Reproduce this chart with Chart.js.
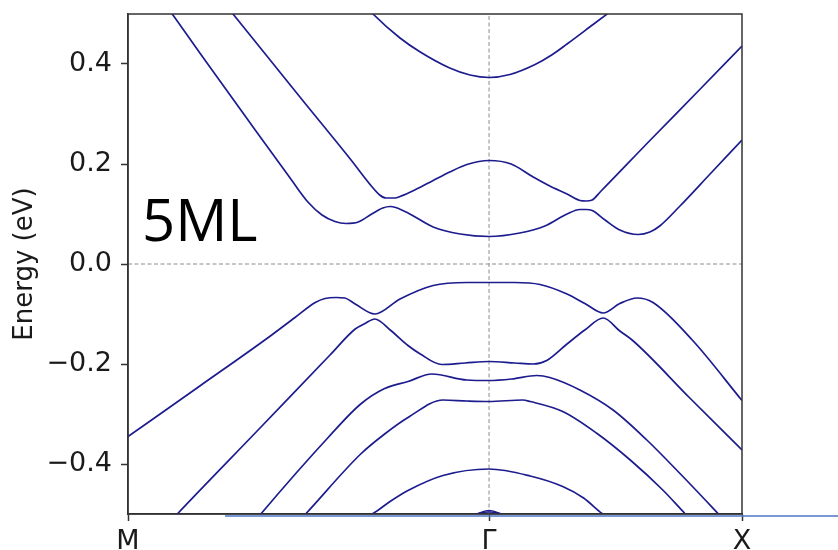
<!DOCTYPE html>
<html>
<head>
<meta charset="utf-8">
<title>5ML band structure</title>
<script src="https://cdn.jsdelivr.net/npm/chart.js@4.4.1/dist/chart.umd.min.js"></script>
<style>
  html, body { margin: 0; padding: 0; background: #fff; }
</style>
</head>
<body>
<canvas id="bands" width="838" height="550"></canvas>
<script>
// k path M -> Γ -> X, whole path scaled to 0..1
const kTicks = [0, 0.588, 1];
const kLabels = ["M", "Γ", "X"];
const eTicks = [-0.4, -0.2, 0, 0.2, 0.4];

// bands, [k, E in eV]
const cb3 = [[0.370, 0.540], [0.399, 0.500], [0.443, 0.452], [0.476, 0.424], [0.524, 0.392], [0.557, 0.378],
  [0.588, 0.373], [0.622, 0.379], [0.663, 0.399], [0.690, 0.418], [0.715, 0.440], [0.752, 0.474], [0.780, 0.500],
  [0.809, 0.528]];

const cb2 = [[0.138, 0.550], [0.171, 0.500], [0.280, 0.334], [0.362, 0.210], [0.397, 0.155], [0.410, 0.138],
  [0.420, 0.132], [0.435, 0.132], [0.443, 0.135], [0.467, 0.148], [0.497, 0.167], [0.524, 0.184], [0.552, 0.199],
  [0.588, 0.207], [0.624, 0.200], [0.660, 0.174], [0.687, 0.156], [0.715, 0.140], [0.736, 0.127], [0.746, 0.126],
  [0.756, 0.128], [0.769, 0.144], [0.850, 0.247], [0.932, 0.350], [1.000, 0.436]];

const cb1 = [[0.042, 0.550], [0.072, 0.500], [0.117, 0.422], [0.199, 0.282], [0.264, 0.172], [0.293, 0.124],
  [0.316, 0.098], [0.337, 0.085], [0.355, 0.081], [0.375, 0.084], [0.397, 0.100], [0.415, 0.112], [0.427, 0.115],
  [0.436, 0.113], [0.459, 0.100], [0.497, 0.074], [0.541, 0.060], [0.588, 0.055], [0.638, 0.062], [0.679, 0.076],
  [0.715, 0.100], [0.736, 0.109], [0.746, 0.109], [0.756, 0.107], [0.777, 0.088], [0.801, 0.068], [0.831, 0.059],
  [0.850, 0.064], [0.866, 0.076], [0.899, 0.116], [0.948, 0.180], [1.000, 0.248]];

const vb1 = [[0.000, -0.345], [0.117, -0.244], [0.233, -0.143], [0.272, -0.107], [0.305, -0.077], [0.321, -0.069],
  [0.339, -0.067], [0.353, -0.068], [0.370, -0.080], [0.402, -0.100], [0.443, -0.070], [0.497, -0.043],
  [0.552, -0.037], [0.588, -0.037], [0.630, -0.037], [0.671, -0.041], [0.715, -0.060], [0.744, -0.079],
  [0.774, -0.098], [0.801, -0.079], [0.829, -0.068], [0.855, -0.077], [0.919, -0.152], [1.000, -0.273]];

const vb2 = [[0.062, -0.524], [0.081, -0.499], [0.215, -0.328], [0.329, -0.182], [0.370, -0.130], [0.386, -0.119],
  [0.402, -0.110], [0.427, -0.132], [0.456, -0.163], [0.476, -0.180], [0.511, -0.201], [0.549, -0.198],
  [0.588, -0.195], [0.630, -0.198], [0.660, -0.200], [0.682, -0.193], [0.715, -0.160], [0.744, -0.132],
  [0.774, -0.108], [0.801, -0.134], [0.822, -0.153], [0.915, -0.268], [1.000, -0.372]];

const vb3 = [[0.207, -0.514], [0.217, -0.499], [0.326, -0.347], [0.379, -0.280], [0.418, -0.249], [0.456, -0.235],
  [0.495, -0.220], [0.552, -0.232], [0.588, -0.233], [0.625, -0.230], [0.666, -0.223], [0.687, -0.227],
  [0.736, -0.252], [0.790, -0.292], [0.845, -0.352], [0.899, -0.419], [0.961, -0.499], [0.974, -0.516]];

const vb4 = [[0.280, -0.512], [0.290, -0.499], [0.379, -0.380], [0.418, -0.340], [0.456, -0.307], [0.513, -0.272],
  [0.552, -0.274], [0.588, -0.275], [0.643, -0.272], [0.655, -0.275], [0.708, -0.295], [0.764, -0.339],
  [0.818, -0.392], [0.871, -0.452], [0.907, -0.499], [0.919, -0.514]];

const vb5 = [[0.381, -0.508], [0.399, -0.499], [0.428, -0.474], [0.456, -0.453], [0.513, -0.423], [0.588, -0.410],
  [0.655, -0.424], [0.708, -0.445], [0.742, -0.468], [0.772, -0.499], [0.788, -0.512]];

// two bands just peeking above the bottom edge at Γ
const vb6 = [[0.557, -0.512], [0.573, -0.498], [0.588, -0.493], [0.603, -0.498], [0.619, -0.512]];
const vb7 = [[0.549, -0.512], [0.567, -0.500], [0.588, -0.496], [0.609, -0.500], [0.627, -0.512]];

const bands = [cb3, cb2, cb1, vb1, vb2, vb3, vb4, vb5, vb6, vb7];

const yMin = -0.5;
const yMax = 0.5;
const tickFont = { family: "DejaVu Sans", size: 27 };

const bandSets = bands.map((b) => ({
  data: b.map(([k, e]) => ({ x: k, y: e })),
  showLine: true,
  borderColor: "#1c1c8e",
  borderWidth: 1.7,
  pointRadius: 0,
  cubicInterpolationMode: "monotone",
  order: 0,
}));

// dashed guides at E = 0 and at Γ
const guideStyle = {
  showLine: true,
  borderColor: "#8c8c8c",
  borderWidth: 1,
  borderDash: [4, 2.5],
  pointRadius: 0,
  tension: 0,
  order: 1,
};
const guideSets = [
  { ...guideStyle, data: [{ x: kTicks[0], y: 0 }, { x: kTicks[2], y: 0 }] },
  { ...guideStyle, data: [{ x: kTicks[1], y: yMin }, { x: kTicks[1], y: yMax }] },
];

// box round the plot, the "5ML" tag and the stray blue rule under the axis
const extras = {
  id: "extras",
  afterDraw(chart) {
    const { ctx, chartArea: a } = chart;
    ctx.save();
    ctx.strokeStyle = "#333";
    ctx.lineWidth = 1.5;
    ctx.strokeRect(a.left, a.top, a.right - a.left, a.bottom - a.top);

    ctx.fillStyle = "#000";
    ctx.font = '58px "Open Sans"';
    ctx.textBaseline = "alphabetic";
    ctx.fillText("5ML", a.left + 14, a.top + 227);

    ctx.strokeStyle = "#4a76c6";
    ctx.lineWidth = 1.5;
    ctx.beginPath();
    ctx.moveTo(a.left + 97, a.bottom + 2);
    ctx.lineTo(chart.width, a.bottom + 2);
    ctx.stroke();
    ctx.restore();
  },
};

new Chart(document.getElementById("bands"), {
  type: "scatter",
  plugins: [extras],
  data: { datasets: [...bandSets, ...guideSets] },
  options: {
    responsive: false,
    animation: false,
    layout: { padding: { top: 14, right: 96, bottom: 0, left: 0 } },
    plugins: { legend: { display: false }, tooltip: { enabled: false } },
    scales: {
      x: {
        type: "linear",
        min: kTicks[0],
        max: kTicks[2],
        afterBuildTicks: (s) => { s.ticks = kTicks.map((v) => ({ value: v })); },
        afterFit: (s) => { s.height = 36; s.paddingLeft = 0; s.paddingRight = 0; },
        ticks: {
          autoSkip: false,
          maxRotation: 0,
          padding: 5,
          color: "#1a1a1a",
          font: tickFont,
          callback: (v) => kLabels[kTicks.indexOf(v)],
        },
        grid: { drawOnChartArea: false, tickLength: 7, tickColor: "#333", tickWidth: 1.5 },
        border: { color: "#333", width: 1.5 },
      },
      y: {
        type: "linear",
        min: yMin,
        max: yMax,
        afterBuildTicks: (s) => { s.ticks = eTicks.map((v) => ({ value: v })); },
        afterFit: (s) => { s.width = 128; s.paddingTop = 0; s.paddingBottom = 0; },
        ticks: {
          padding: 9,
          color: "#1a1a1a",
          font: tickFont,
          callback: (v) => (v < 0 ? "\u2212" : "") + Math.abs(v).toFixed(1),
        },
        grid: { drawOnChartArea: false, tickLength: 7, tickColor: "#333", tickWidth: 1.5 },
        border: { color: "#333", width: 1.5 },
        title: {
          display: true,
          text: "Energy (eV)",
          color: "#1a1a1a",
          font: { family: "DejaVu Sans", size: 26 },
          padding: { top: 10, bottom: 0 },
        },
      },
    },
  },
});
</script>
</body>
</html>
